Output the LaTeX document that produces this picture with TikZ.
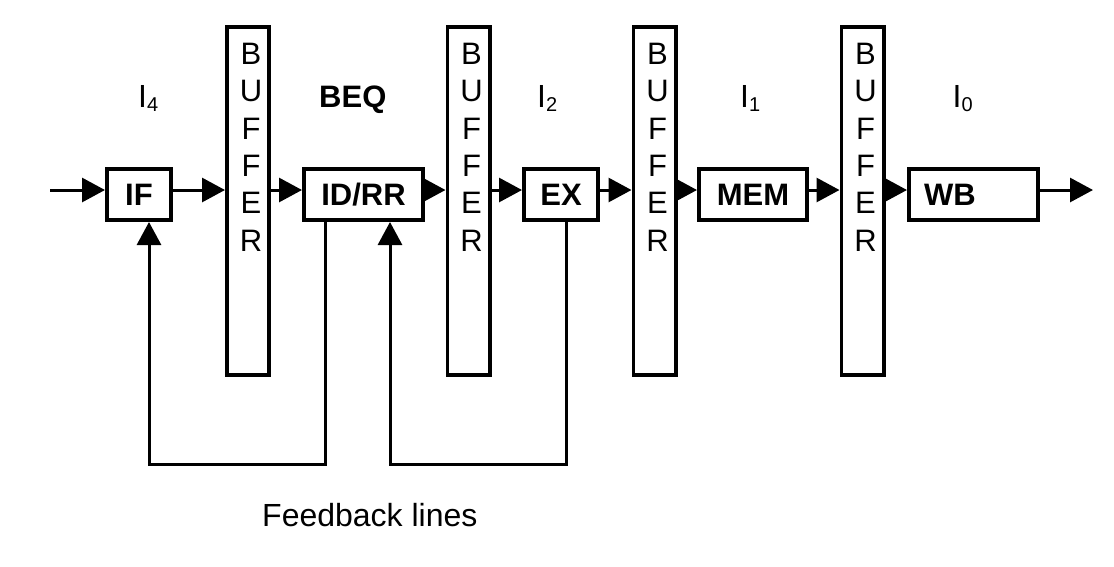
\documentclass[tikz,border=0pt]{standalone}
\usepackage{fontspec}
\setmainfont{Liberation Sans}
\usetikzlibrary{arrows.meta,calc}
\begin{document}
\begin{tikzpicture}[x=1pt,y=-1pt,
  stage/.style={draw, line width=3.6pt, minimum height=51.4pt, inner sep=0pt,
    font=\fontsize{31}{36}\selectfont\bfseries},
  bufbox/.style={draw, line width=3.6pt, minimum width=42.4pt, minimum height=348.4pt, inner sep=0pt},
  buftext/.style={anchor=north, inner sep=0pt, align=center, font=\fontsize{31}{37.3}\selectfont},
  arr/.style={line width=3pt, -{Triangle[length=23pt,width=24pt]}},
  fb/.style={line width=3pt},
  lbl/.style={anchor=base west, inner sep=0pt, font=\fontsize{32}{38}\selectfont}
]
\useasboundingbox (0,0) rectangle (1114,566);
% stages
\node[stage, minimum width=64.4pt] (IF) at (139,194.5) {IF};
\node[stage, minimum width=119.4pt] (IDRR) at (363.5,194.5) {ID/RR};
\node[stage, minimum width=74.4pt] (EX) at (561,194.5) {EX};
\node[stage, minimum width=108.4pt] (MEM) at (753,194.5) {MEM};
\node[stage, minimum width=129.4pt, text width=99pt, align=left] (WB) at (973.5,194.5) {WB};
% buffers
\node[bufbox] (b1) at (248,201) {};
\node[bufbox] (b2) at (468.5,201) {};
\node[bufbox] (b3) at (654.5,201) {};
\node[bufbox] (b4) at (862.5,201) {};
\foreach \b in {b1,b2,b3,b4}{
  \node[buftext] (\b t) at ($(\b.north)+(3,18)$) {B\\U\\F\\F\\E\\R};
}
% main line coordinates
\coordinate (in) at (50,190);
\coordinate (out) at (1093,190);
\draw[arr] (in) -- (IF.west |- in);
\draw[arr] (IF.east |- in) -- (b1.west |- in);
\draw[arr] (b1.east |- in) -- (IDRR.west |- in);
\draw[arr] (IDRR.east |- in) -- (b2.west |- in);
\draw[arr] (b2.east |- in) -- (EX.west |- in);
\draw[arr] (EX.east |- in) -- (b3.west |- in);
\draw[arr] (b3.east |- in) -- (MEM.west |- in);
\draw[arr] (MEM.east |- in) -- (b4.west |- in);
\draw[arr] (b4.east |- in) -- (WB.west |- in);
\draw[arr] (WB.east |- in) -- (out);
% feedback lines
\coordinate (f1a) at (325,464);
\coordinate (f1) at (149,464);
\coordinate (f2a) at (566,464);
\coordinate (f2) at (390,464);
\draw[fb, line join=miter] (IDRR.south -| f1a) -- (f1a) -- (f1) -- ($(f1)+(0,-1)$);
\draw[arr] (f1) -- (IF.south -| f1);
\draw[fb, line join=miter] (EX.south -| f2a) -- (f2a) -- (f2) -- ($(f2)+(0,-1)$);
\draw[arr] (f2) -- (IDRR.south -| f2);
% labels
\node[lbl] (i4) at (138,107) {I\raisebox{-4pt}{\fontsize{20}{20}\selectfont 4}};
\node[lbl, font=\fontsize{31}{38}\selectfont\bfseries] (beq) at (319,107) {BEQ};
\node[lbl] (i2) at (537,107) {I\raisebox{-4pt}{\fontsize{20}{20}\selectfont 2}};
\node[lbl] (i1) at (740,107) {I\raisebox{-4pt}{\fontsize{20}{20}\selectfont 1}};
\node[lbl] (i0) at (952.5,107) {I\raisebox{-4pt}{\fontsize{20}{20}\selectfont 0}};
\node[lbl] (fbl) at (262,526.7) {Feedback lines};
\end{tikzpicture}
\end{document}
